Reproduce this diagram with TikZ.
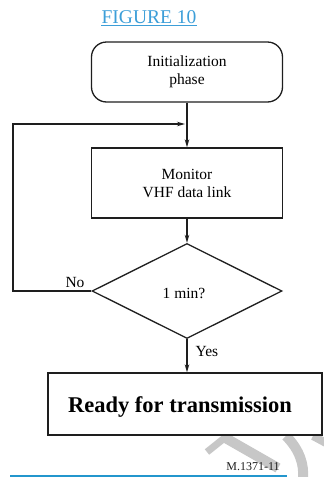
\documentclass[tikz,border=0pt]{standalone}
\usepackage{fontspec}
\setmainfont{Liberation Serif}
\usetikzlibrary{shapes.geometric,arrows.meta}
\definecolor{figblue}{RGB}{60,158,216}
\definecolor{lineblue}{RGB}{35,150,205}
\definecolor{ink}{RGB}{30,30,30}
\tikzset{
  box/.style={draw=ink, line width=1.3pt, minimum width=191pt, inner sep=0pt, align=center, font=\fontsize{15.5}{18}\selectfont},
  roundbox/.style={box, rounded corners=15pt},
  decision/.style={draw=ink, line width=1.3pt, diamond, aspect=2, minimum width=190pt, minimum height=95pt, inner sep=0pt, font=\fontsize{15.5}{18}\selectfont},
  conn/.style={draw=ink, line width=1.3pt, -{Stealth[length=8pt,width=4.5pt]}},
  lbl/.style={inner sep=0pt, font=\fontsize{15.5}{18}\selectfont},
  wm/.style={draw=black!22, line cap=butt}
}
\begin{document}
\begin{tikzpicture}[x=1pt,y=-1pt]
\useasboundingbox (0,0) rectangle (324,477);
\begin{scope}
\clip (0,0) rectangle (324,477);
% watermark fragments
\draw[wm, line width=7pt] (207,452) -- (227,436);
\draw[wm, line width=10pt] (222,436) -- (278,468);
\draw[wm, line width=10pt] (286,436) .. controls (300,450) and (304,465) .. (303,477);
\draw[wm, line width=8pt] (313,436) -- (326,443);
\end{scope}
% title
\node[text=figblue, inner sep=0pt, font=\fontsize{19.5}{22}\selectfont] (title) at (149,17) {FIGURE 10};
\draw[figblue, line width=0.8pt] ([yshift=-2.5pt]title.base west) -- ([yshift=-2.5pt]title.base east);
% nodes
\node[roundbox, minimum height=60pt] (init) at (187,72) {Initialization\\phase};
\node[box, minimum height=70pt] (mon) at (187,183) {Monitor\\VHF data link};
\node[decision] (dec) at (187,291) {};
\node[lbl] (q) at (184,293) {1 min?};
\node[draw=ink, line width=1.3pt, fill=white, minimum width=274pt, minimum height=62pt, inner sep=0pt] (ready) at (185,404) {};
\node[inner sep=0pt, font=\fontsize{22.5}{26}\selectfont\bfseries] (readyt) at (180,407) {Ready for transmission};
% coordinates for feedback
\coordinate (fbl) at (13,291);
\coordinate (fbj) at (185,124);
% connectors
\draw[conn] (init.south) -- (mon.north);
\draw[conn] (mon.south) -- (dec.north);
\draw[conn] (dec.west) -- (fbl) |- (fbj);
\draw[conn] (dec.south) -- (dec.south |- ready.north);
% labels
\node[lbl] (no) at (75,282) {No};
\node[lbl] (yes) at (207,351) {Yes};
% footer
\node[inner sep=0pt, text=ink, font=\fontsize{12}{14}\selectfont] (code) at (253,467) {M.1371-11};
\coordinate (bl) at (10,476);
\coordinate (br) at (287,476);
\draw[lineblue, line width=2pt] (bl) -- (br);
\end{tikzpicture}
\end{document}
